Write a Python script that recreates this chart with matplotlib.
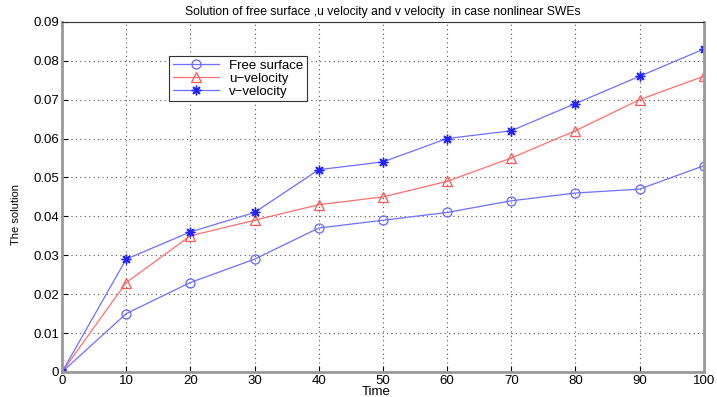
import matplotlib
matplotlib.use('Agg')
import matplotlib.pyplot as plt
from matplotlib import font_manager

# Solution values for the nonlinear SWE case

time = [0, 10, 20, 30, 40, 50, 60, 70, 80, 90, 100]
free_surface = [0, 0.015, 0.023, 0.029, 0.037, 0.039, 0.041, 0.044, 0.046, 0.047, 0.053]
u_velocity = [0, 0.023, 0.035, 0.039, 0.043, 0.045, 0.049, 0.055, 0.062, 0.070, 0.076]
v_velocity = [0, 0.029, 0.036, 0.041, 0.052, 0.054, 0.060, 0.062, 0.069, 0.076, 0.083]
yticks = [0, 0.01, 0.02, 0.03, 0.04, 0.05, 0.06, 0.07, 0.08, 0.09]
ytick_labels = ['0', '0.01', '0.02', '0.03', '0.04', '0.05', '0.06', '0.07', '0.08', '0.09']

plt.rcParams['font.family'] = ['Liberation Sans', 'DejaVu Sans']

names = {f.name for f in font_manager.fontManager.ttflist}
narrow = 'Liberation Sans Narrow' if 'Liberation Sans Narrow' in names else 'Liberation Sans'

fig = plt.figure(figsize=(7.17, 3.97), dpi=100)
ax = fig.add_axes([0.0865, 0.063, 0.895, 0.882])

ax.plot(time, free_surface, color='#6f6fff', lw=0.9, marker='o', ms=6.5,
        mfc='none', mec='#6666ff', mew=0.9, label='Free surface')
ax.plot(time, u_velocity, color='#ff6f6f', lw=0.9, marker='^', ms=7,
        mfc='none', mec='#ff5555', mew=0.9, label='u\u2212velocity')
ax.plot(time, v_velocity, color='#6f6fff', lw=0.9, marker=(8, 2, 0), ms=7,
        mec='#2222ff', mew=1.0, label='v\u2212velocity')

ax.set_xlim(0, 100)
ax.set_ylim(0, 0.09)
ax.set_xticks(time)
ax.set_yticks(yticks)
ax.set_yticklabels(ytick_labels)
ax.tick_params(labelsize=9.5, length=4, direction='in', pad=2)
ax.grid(True, color='#555555', linestyle=(0, (1, 3)), lw=0.8)

for side in ['left', 'bottom', 'right']:
    ax.spines[side].set_color('#999999')
    ax.spines[side].set_linewidth(2)
ax.spines['top'].set_color('#333333')
ax.spines['top'].set_linewidth(0.8)

ax.set_title('Solution of free surface ,u velocity and v velocity  in case nonlinear SWEs',
             fontsize=8.7, pad=5)
ax.set_xlabel('Time', fontsize=9.5)
ax.xaxis.set_label_coords(0.49, -0.04)
ax.set_ylabel('The solution', fontsize=8, family=[narrow, 'DejaVu Sans'])
ax.yaxis.set_label_coords(-0.064, 0.45)

leg = ax.legend(loc='upper left', bbox_to_anchor=(0.157, 0.92), fontsize=9.5,
                fancybox=False, edgecolor='#333333', framealpha=1,
                handlelength=3.5, borderpad=0.25, labelspacing=0.05)
leg.get_frame().set_linewidth(0.8)

fig.savefig('out.png', dpi=100)
